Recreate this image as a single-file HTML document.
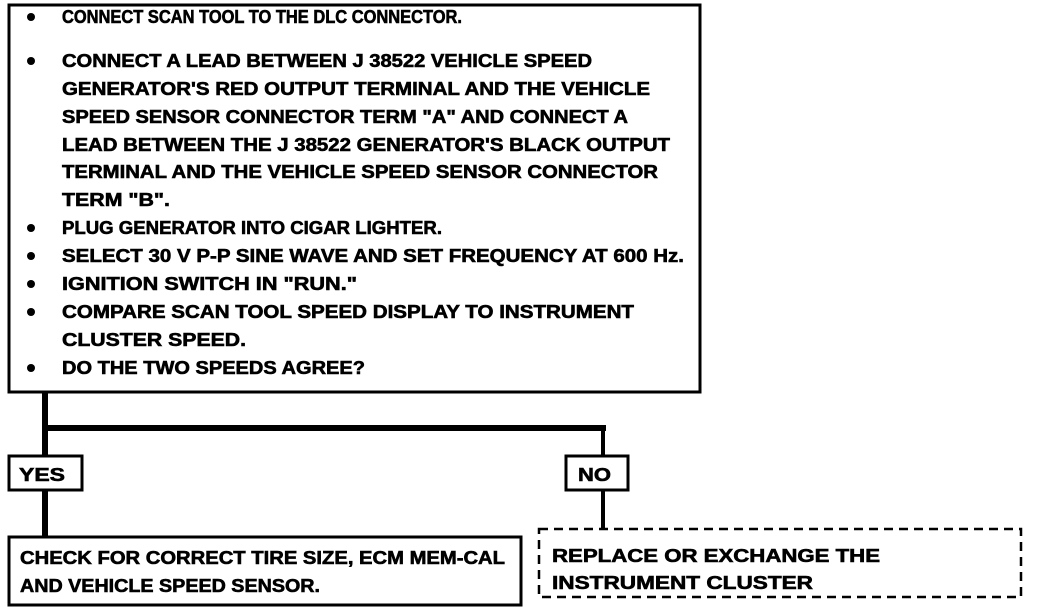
<!DOCTYPE html>
<html><head><meta charset="utf-8"><style>
html,body{margin:0;padding:0;background:#fff;}
svg{display:block;}
text{font-family:"Liberation Sans",sans-serif;font-weight:bold;font-size:18px;fill:#000;stroke:#000;stroke-width:0.6;}
</style></head><body>
<svg width="1040" height="612" viewBox="0 0 1040 612" xmlns="http://www.w3.org/2000/svg">
<rect x="9" y="5" width="691" height="387" fill="none" stroke="#000" stroke-width="3"/>
<g>
<circle cx="31" cy="17" r="4"/>
<text x="62" y="23" textLength="400" lengthAdjust="spacingAndGlyphs">CONNECT SCAN TOOL TO THE DLC CONNECTOR.</text>
<circle cx="31" cy="61" r="4"/>
<text x="62" y="67" textLength="530" lengthAdjust="spacingAndGlyphs">CONNECT A LEAD BETWEEN J 38522 VEHICLE SPEED</text>
<text x="62" y="95" textLength="588" lengthAdjust="spacingAndGlyphs">GENERATOR'S RED OUTPUT TERMINAL AND THE VEHICLE</text>
<text x="62" y="123" textLength="566" lengthAdjust="spacingAndGlyphs">SPEED SENSOR CONNECTOR TERM "A" AND CONNECT A</text>
<text x="62" y="151" textLength="608" lengthAdjust="spacingAndGlyphs">LEAD BETWEEN THE J 38522 GENERATOR'S BLACK OUTPUT</text>
<text x="62" y="178" textLength="596" lengthAdjust="spacingAndGlyphs">TERMINAL AND THE VEHICLE SPEED SENSOR CONNECTOR</text>
<text x="62" y="206" textLength="108" lengthAdjust="spacingAndGlyphs">TERM "B".</text>
<circle cx="31" cy="228" r="4"/>
<text x="62" y="234" textLength="380" lengthAdjust="spacingAndGlyphs">PLUG GENERATOR INTO CIGAR LIGHTER.</text>
<circle cx="31" cy="256" r="4"/>
<text x="62" y="262" textLength="622" lengthAdjust="spacingAndGlyphs">SELECT 30 V P-P SINE WAVE AND SET FREQUENCY AT 600 Hz.</text>
<circle cx="31" cy="284" r="4"/>
<text x="62" y="290" textLength="295" lengthAdjust="spacingAndGlyphs">IGNITION SWITCH IN "RUN."</text>
<circle cx="31" cy="312" r="4"/>
<text x="62" y="318" textLength="572" lengthAdjust="spacingAndGlyphs">COMPARE SCAN TOOL SPEED DISPLAY TO INSTRUMENT</text>
<text x="62" y="346" textLength="184" lengthAdjust="spacingAndGlyphs">CLUSTER SPEED.</text>
<circle cx="31" cy="368" r="4"/>
<text x="62" y="374" textLength="303" lengthAdjust="spacingAndGlyphs">DO THE TWO SPEEDS AGREE?</text>
</g>
<line x1="45" y1="392" x2="45" y2="456" stroke="#000" stroke-width="6"/>
<line x1="42" y1="428" x2="606" y2="428" stroke="#000" stroke-width="6"/>
<line x1="603" y1="428" x2="603" y2="456" stroke="#000" stroke-width="4"/>
<rect x="9" y="456" width="73" height="34" fill="#fff" stroke="#000" stroke-width="3"/>
<text x="19" y="481" textLength="46" lengthAdjust="spacingAndGlyphs">YES</text>
<rect x="566" y="456" width="62" height="34" fill="#fff" stroke="#000" stroke-width="3"/>
<text x="578" y="481" textLength="33" lengthAdjust="spacingAndGlyphs">NO</text>
<line x1="45" y1="490" x2="45" y2="537" stroke="#000" stroke-width="6"/>
<line x1="603" y1="490" x2="603" y2="528" stroke="#000" stroke-width="4"/>
<rect x="9" y="537" width="512" height="68" fill="#fff" stroke="#000" stroke-width="3"/>
<text x="20" y="564" textLength="485" lengthAdjust="spacingAndGlyphs">CHECK FOR CORRECT TIRE SIZE, ECM MEM-CAL</text>
<text x="20" y="592" textLength="300" lengthAdjust="spacingAndGlyphs">AND VEHICLE SPEED SENSOR.</text>
<rect x="539" y="529" width="482" height="68" fill="none" stroke="#000" stroke-width="2.5" stroke-dasharray="9,6"/>
<text x="552" y="562" textLength="328" lengthAdjust="spacingAndGlyphs">REPLACE  OR EXCHANGE THE</text>
<text x="552" y="589" textLength="261" lengthAdjust="spacingAndGlyphs">INSTRUMENT CLUSTER</text>
</svg>
</body></html>
